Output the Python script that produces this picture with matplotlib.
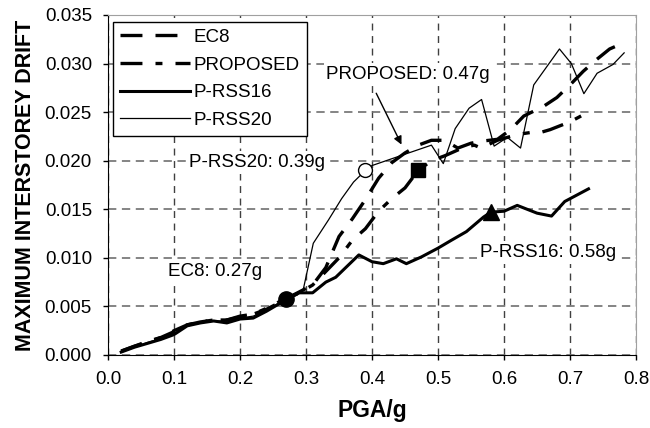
import matplotlib
matplotlib.use('Agg')
import matplotlib.pyplot as plt

plt.rcParams['font.family'] = ['Liberation Sans', 'DejaVu Sans']
plt.rcParams['lines.scale_dashes'] = False

# PGA/g and max interstorey drift for each design
ec8_pga = [0.02, 0.04, 0.06, 0.08, 0.10, 0.12, 0.14, 0.16, 0.18, 0.20, 0.22, 0.24, 0.26, 0.27,
           0.29, 0.31, 0.33, 0.35, 0.37, 0.39, 0.41, 0.43, 0.45, 0.47, 0.49, 0.51, 0.53, 0.55,
           0.565, 0.59, 0.61, 0.63, 0.66, 0.68, 0.70, 0.72, 0.74, 0.76, 0.78]
ec8_drift = [0.0004, 0.0009, 0.0013, 0.0018, 0.0024, 0.0031, 0.0034, 0.0036, 0.0036, 0.0039, 0.0042, 0.0047, 0.0054, 0.0058,
             0.0065, 0.0072, 0.0090, 0.0122, 0.0140, 0.0160, 0.0182, 0.0198, 0.0208, 0.0216, 0.0221, 0.0221, 0.0213, 0.0218,
             0.0220, 0.0222, 0.0232, 0.0246, 0.0256, 0.0265, 0.0278, 0.0292, 0.0304, 0.0315, 0.0321]

prop_pga = [0.02, 0.04, 0.06, 0.08, 0.10, 0.12, 0.14, 0.16, 0.18, 0.20, 0.22, 0.24, 0.26, 0.27,
            0.29, 0.31, 0.33, 0.35, 0.37, 0.39, 0.41, 0.43, 0.45, 0.47, 0.49, 0.51, 0.54, 0.555,
            0.565, 0.59, 0.62, 0.64, 0.65, 0.67, 0.70, 0.725]
prop_drift = [0.0004, 0.0009, 0.0014, 0.0018, 0.0025, 0.0031, 0.0034, 0.0036, 0.0036, 0.0040, 0.0042, 0.0048, 0.0055, 0.0058,
              0.0064, 0.0072, 0.0086, 0.0100, 0.0118, 0.0130, 0.0148, 0.0161, 0.0172, 0.0190, 0.0200, 0.0205, 0.0214, 0.0216,
              0.0213, 0.0221, 0.0227, 0.0229, 0.0228, 0.0232, 0.0240, 0.0249]

rss16_pga = [0.02, 0.04, 0.06, 0.08, 0.10, 0.12, 0.14, 0.16, 0.18, 0.20, 0.22, 0.24, 0.26, 0.27,
             0.29, 0.31, 0.33, 0.345, 0.38, 0.40, 0.417, 0.437, 0.452, 0.475, 0.50, 0.52, 0.543, 0.569,
             0.58, 0.60, 0.62, 0.65, 0.672, 0.692, 0.728]
rss16_drift = [0.0003, 0.0008, 0.0012, 0.0016, 0.0021, 0.0030, 0.0033, 0.0035, 0.0033, 0.0037, 0.0038, 0.0045, 0.0053, 0.0057,
               0.0064, 0.0064, 0.0075, 0.0080, 0.0103, 0.0096, 0.0094, 0.0099, 0.0094, 0.0101, 0.0110, 0.0118, 0.0127, 0.0142,
               0.0147, 0.0148, 0.0154, 0.0146, 0.0143, 0.0158, 0.0171]

rss20_pga = [0.02, 0.04, 0.06, 0.08, 0.10, 0.12, 0.14, 0.16, 0.18, 0.20, 0.22, 0.24, 0.26, 0.27,
             0.28, 0.296, 0.311, 0.334, 0.354, 0.372, 0.39, 0.40, 0.447, 0.49, 0.508, 0.526, 0.547, 0.566,
             0.585, 0.605, 0.625, 0.645, 0.684, 0.702, 0.721, 0.741, 0.765, 0.782]
rss20_drift = [0.0004, 0.0008, 0.0013, 0.0017, 0.0022, 0.0030, 0.0033, 0.0035, 0.0035, 0.0038, 0.0040, 0.0046, 0.0054, 0.0058,
               0.0061, 0.0068, 0.0115, 0.0139, 0.0161, 0.0178, 0.0190, 0.0195, 0.0206, 0.0216, 0.0197, 0.0233, 0.0254, 0.0263,
               0.0215, 0.0224, 0.0213, 0.0278, 0.0315, 0.0300, 0.0269, 0.0290, 0.0299, 0.0311]

# limit-state PGA for each design and the drift at that point
ec8_limit = (0.27, 0.0058)
prop_limit = (0.47, 0.0190)
rss16_limit = (0.58, 0.0147)
rss20_limit = (0.39, 0.0190)

fig = plt.figure(figsize=(6.5, 4.28), dpi=100)
ax = fig.add_axes([0.1662, 0.1706, 0.8123, 0.7944])

ax.plot(ec8_pga, ec8_drift, color='k', lw=2.4, dashes=(15.8, 9.4), label='EC8', zorder=3)
ax.plot(prop_pga, prop_drift, color='k', lw=2.4, dashes=(15.8, 9.4, 5.0, 9.4), label='PROPOSED', zorder=3)
ax.plot(rss16_pga, rss16_drift, color='k', lw=2.2, label='P-RSS16', zorder=3)
ax.plot(rss20_pga, rss20_drift, color='k', lw=0.9, label='P-RSS20', zorder=3)

ax.plot(*ec8_limit, 'o', color='k', ms=11, zorder=4)
ax.plot(*prop_limit, 's', color='k', ms=10.5, zorder=4)
ax.plot(*rss16_limit, '^', color='k', ms=11, zorder=4)
ax.plot(*rss20_limit, 'o', mfc='white', mec='k', mew=1, ms=10, zorder=4)

fs = 13.5
box = dict(facecolor='white', edgecolor='none', pad=2)
ax.text(0.0914, 0.00858, 'EC8: 0.27g', fontsize=fs, va='center', ha='left', bbox=box, zorder=3)
ax.text(0.123, 0.0198, 'P-RSS20: 0.39g', fontsize=fs, va='center', ha='left', bbox=box, zorder=3)
ax.text(0.5636, 0.01053, 'P-RSS16: 0.58g', fontsize=fs, va='center', ha='left', bbox=box, zorder=3)
ax.text(0.331, 0.0289, 'PROPOSED: 0.47g', fontsize=fs, va='center', ha='left', bbox=box, zorder=3)
ax.annotate('', xy=(0.4465, 0.0214), xytext=(0.4045, 0.0272),
            arrowprops=dict(arrowstyle='-|>', color='k', lw=1, mutation_scale=12), zorder=4)

ax.set_xlim(0, 0.8)
ax.set_ylim(0, 0.035)
ax.set_xticks([i / 10 for i in range(9)])
ax.set_yticks([i * 0.005 for i in range(8)])
ax.set_xticklabels([f'{i / 10:.1f}' for i in range(9)])
ax.set_yticklabels([f'{i * 0.005:.3f}' for i in range(8)])
ax.tick_params(direction='out', length=3.6, width=1, labelsize=fs)
ax.tick_params(axis='x', pad=8)
ax.tick_params(axis='y', pad=8)

ax.xaxis.grid(True, color='#404040', linestyle=(0, (5, 4)), lw=1)
ax.yaxis.grid(True, color='#707070', linestyle=(0, (6, 4)), lw=1.2)
ax.set_axisbelow(True)

for side in ['top', 'right']:
    ax.spines[side].set_color('#a0a0a0')
for side in ['left', 'bottom']:
    ax.spines[side].set_color('k')

ax.set_xlabel('PGA/g', fontsize=16.5, fontweight='bold', labelpad=8)
ax.set_ylabel('MAXIMUM INTERSTOREY DRIFT', fontsize=15.5, fontweight='bold', labelpad=6)

leg = ax.legend(loc='upper left', bbox_to_anchor=(0.0095, 0.98), borderaxespad=0, fontsize=fs,
                handlelength=3.7, handletextpad=0.2, labelspacing=0.56, borderpad=0.38,
                fancybox=False, framealpha=1)
leg.get_frame().set_edgecolor('k')
leg.get_frame().set_linewidth(1)
leg.set_zorder(5)

fig.savefig('out.png', dpi=100)
